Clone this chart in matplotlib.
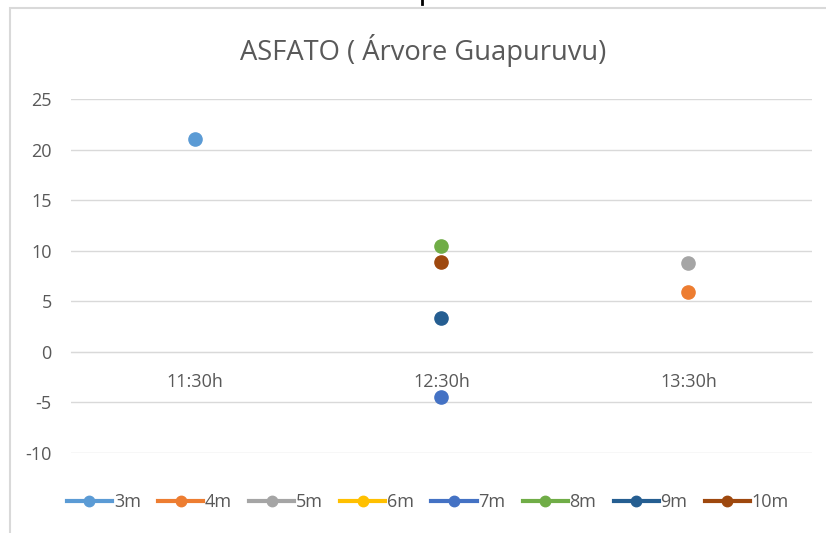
import matplotlib
matplotlib.use("Agg")
import matplotlib.pyplot as plt
import numpy as np
from matplotlib.patches import Rectangle
from matplotlib.lines import Line2D

plt.rcParams['font.family'] = ['Open Sans', 'DejaVu Sans']

categories = ["11:30h", "12:30h", "13:30h"]
series_names = ["3m", "4m", "5m", "6m", "7m", "8m", "9m", "10m"]
nan = np.nan
s3m = [21.1, nan, nan]
s4m = [nan, nan, 5.9]
s5m = [nan, nan, 8.8]
s6m = [nan, nan, nan]
s7m = [nan, -4.5, nan]
s8m = [nan, 10.5, nan]
s9m = [nan, 3.4, nan]
s10m = [nan, 8.9, nan]
values = [s3m, s4m, s5m, s6m, s7m, s8m, s9m, s10m]
colors = ["#5B9BD5", "#ED7D31", "#A5A5A5", "#FFC000", "#4472C4", "#70AD47", "#255E91", "#9E480E"]
yticks = [-10, -5, 0, 5, 10, 15, 20, 25]

fig = plt.figure(figsize=(8.26, 5.33), dpi=100)
ax = fig.add_axes([0.086, 0.150, 0.897, 0.664])

x = np.arange(len(categories))
handles = []
for name, vals, c in zip(series_names, values, colors):
    ax.plot(x, vals, color=c, lw=2.2, marker='o', markersize=9.5,
            markeredgecolor=c, label=name)
    handles.append(Line2D([], [], color=c, lw=3, marker='o', markersize=7.5,
                          markeredgecolor=c, label=name))

ax.set_xlim(-0.5, 2.5)
ax.set_ylim(-10, 25)
ax.set_yticks(yticks)
ax.set_yticklabels([str(v) for v in yticks])
ax.set_xticks(x)
ax.set_xticklabels(categories)
ax.grid(axis='y', color='#D9D9D9', lw=1)
ax.set_axisbelow(True)
for s in ['left', 'right', 'top']:
    ax.spines[s].set_visible(False)
ax.spines['bottom'].set_position(('data', 0))
ax.spines['bottom'].set_color('#D9D9D9')
ax.tick_params(axis='both', length=0, labelsize=13, colors='#595959')
ax.tick_params(axis='x', pad=15)
ax.tick_params(axis='y', pad=14)

fig.text(0.512, 0.906, "ASFATO ( Árvore Guapuruvu)", ha='center', va='center',
         fontsize=19.7, color='#595959')

leg = fig.legend(handles=handles, loc='center', bbox_to_anchor=(0.518, 0.058), ncol=8,
                 frameon=False, fontsize=13, handlelength=2.5, handletextpad=0.1,
                 columnspacing=0.95, labelcolor='#595959')

fig.patches.append(Rectangle((10/826, -0.05), 1.0, 1 - 8/533 + 0.05,
                             transform=fig.transFigure, fill=False,
                             edgecolor='#D9D9D9', lw=1.5))
fig.lines.append(plt.Line2D([422/826, 422/826], [1.0, 1 - 4/533],
                            transform=fig.transFigure, color='black', lw=2))

fig.savefig("out.png", dpi=100)
